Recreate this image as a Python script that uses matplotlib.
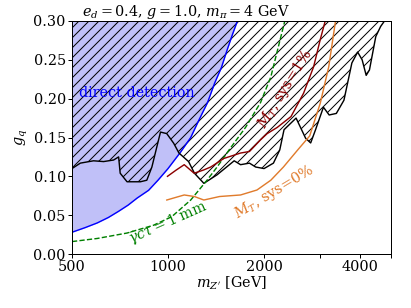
import numpy as np
import matplotlib
matplotlib.use("Agg")
import matplotlib.pyplot as plt

plt.rcParams['font.family'] = 'DejaVu Serif'
plt.rcParams['mathtext.fontset'] = 'dejavuserif'
plt.rcParams['font.size'] = 8.6
plt.rcParams['hatch.linewidth'] = 0.6

# exclusion limit (black, hatched above)
m_lim = [500, 531, 584, 628, 675, 700, 708, 744, 819, 858, 890, 925, 947, 991,
         1042, 1082, 1160, 1210, 1295, 1425, 1612, 1688, 1800, 1882, 2000, 2140,
         2240, 2310, 2520, 2700, 2800, 2900, 3070, 3200, 3370, 3560, 3770, 3930,
         4060, 4180, 4280, 4480, 4640, 4770]
g_lim = [0.110, 0.117, 0.120, 0.119, 0.121, 0.125, 0.104, 0.093, 0.093, 0.095,
         0.112, 0.140, 0.157, 0.155, 0.1425, 0.130, 0.119, 0.104, 0.091, 0.102,
         0.120, 0.115, 0.117, 0.112, 0.110, 0.117, 0.134, 0.160, 0.175, 0.149,
         0.143, 0.160, 0.189, 0.179, 0.181, 0.198, 0.246, 0.260, 0.250, 0.230,
         0.237, 0.280, 0.293, 0.300]

# direct detection
m_dd = [500, 550, 600, 650, 700, 750, 800, 869, 930, 1000, 1094, 1178, 1250,
        1330, 1400, 1470, 1530, 1590, 1650]
g_dd = [0.028, 0.034, 0.040, 0.047, 0.055, 0.063, 0.072, 0.082, 0.095, 0.110,
        0.131, 0.150, 0.1725, 0.195, 0.220, 0.240, 0.262, 0.282, 0.300]

# decay length 1 mm
m_ct = [500, 600, 744, 900, 1027, 1178, 1325, 1425, 1560, 1750, 1950, 2100, 2323]
g_ct = [0.016, 0.020, 0.027, 0.037, 0.048, 0.0695, 0.095, 0.112, 0.135, 0.163, 0.195, 0.228, 0.300]

# M_T, sys = 1%
m_s1 = [996, 1060, 1124, 1207, 1290, 1361, 1496, 1688, 1800, 1950, 2045, 2200,
        2430, 2660, 2860, 3000, 3110]
g_s1 = [0.100, 0.108, 0.115, 0.104, 0.108, 0.112, 0.123, 0.130, 0.132, 0.147,
        0.155, 0.163, 0.177, 0.207, 0.241, 0.276, 0.300]

# M_T, sys = 0%
m_s0 = [991, 1060, 1124, 1210, 1295, 1450, 1688, 1900, 2100, 2300, 2550, 2780,
        3000, 3190, 3350]
g_s0 = [0.0695, 0.073, 0.076, 0.074, 0.0695, 0.074, 0.076, 0.0824, 0.095,
        0.112, 0.134, 0.152, 0.194, 0.241, 0.300]

fig = plt.figure(figsize=(411/120, 308/120), dpi=120)
ax = fig.add_axes([72/411, 1-254/308, 319/411, 233/308])

ax.fill_between(m_dd, g_dd, 0.3, color='#c0c0f8', linewidth=0)
ax.plot(m_dd, g_dd, color='blue', lw=0.85)
ax.fill_between(m_lim, g_lim, 0.3, facecolor='none', edgecolor='black',
                hatch='////', linewidth=0)
ax.plot(m_lim, g_lim, color='black', lw=0.85)
ax.plot(m_ct, g_ct, color='green', lw=0.85, ls='--')
ax.plot(m_s1, g_s1, color='#8b0000', lw=0.85)
ax.plot(m_s0, g_s0, color='#e07b2c', lw=0.85)

ax.text(800, 0.207, 'direct detection', color='blue', ha='center', va='center')
ax.text(1000, 0.041, r'$\bar{\gamma}c\tau = 1$ mm', color='green',
        ha='center', va='center', rotation=24)
ax.text(2330, 0.212, r'$M_T$, sys=1%', color='#8b0000',
        ha='center', va='center', rotation=58)
ax.text(2150, 0.080, r'$M_T$, sys=0%', color='#e07b2c',
        ha='center', va='center', rotation=31)

ax.set_xscale('log')
ax.set_xlim(500, 5000)
ax.set_ylim(0, 0.3)
ax.set_xticks([500, 1000, 2000, 3000, 4000, 5000])
ax.set_xticklabels(['500', '1000', '2000', '', '4000', ''])
ax.xaxis.set_minor_locator(matplotlib.ticker.NullLocator())
ax.set_yticks(np.arange(0, 0.31, 0.05))
ax.set_yticklabels(['%.2f' % v for v in np.arange(0, 0.31, 0.05)])
ax.tick_params(length=2.2, width=0.6, pad=1.5)
for s in ax.spines.values():
    s.set_linewidth(0.6)
ax.set_xlabel(r"$m_{Z'}$ [GeV]", labelpad=0.5)
ax.set_ylabel(r'$g_q$', labelpad=2)

fig.text(82/411, 1-16/308, r'$e_d = 0.4$, $g = 1.0$, $m_\pi = 4$ GeV', va='baseline')

fig.savefig('out.png', dpi=120)
